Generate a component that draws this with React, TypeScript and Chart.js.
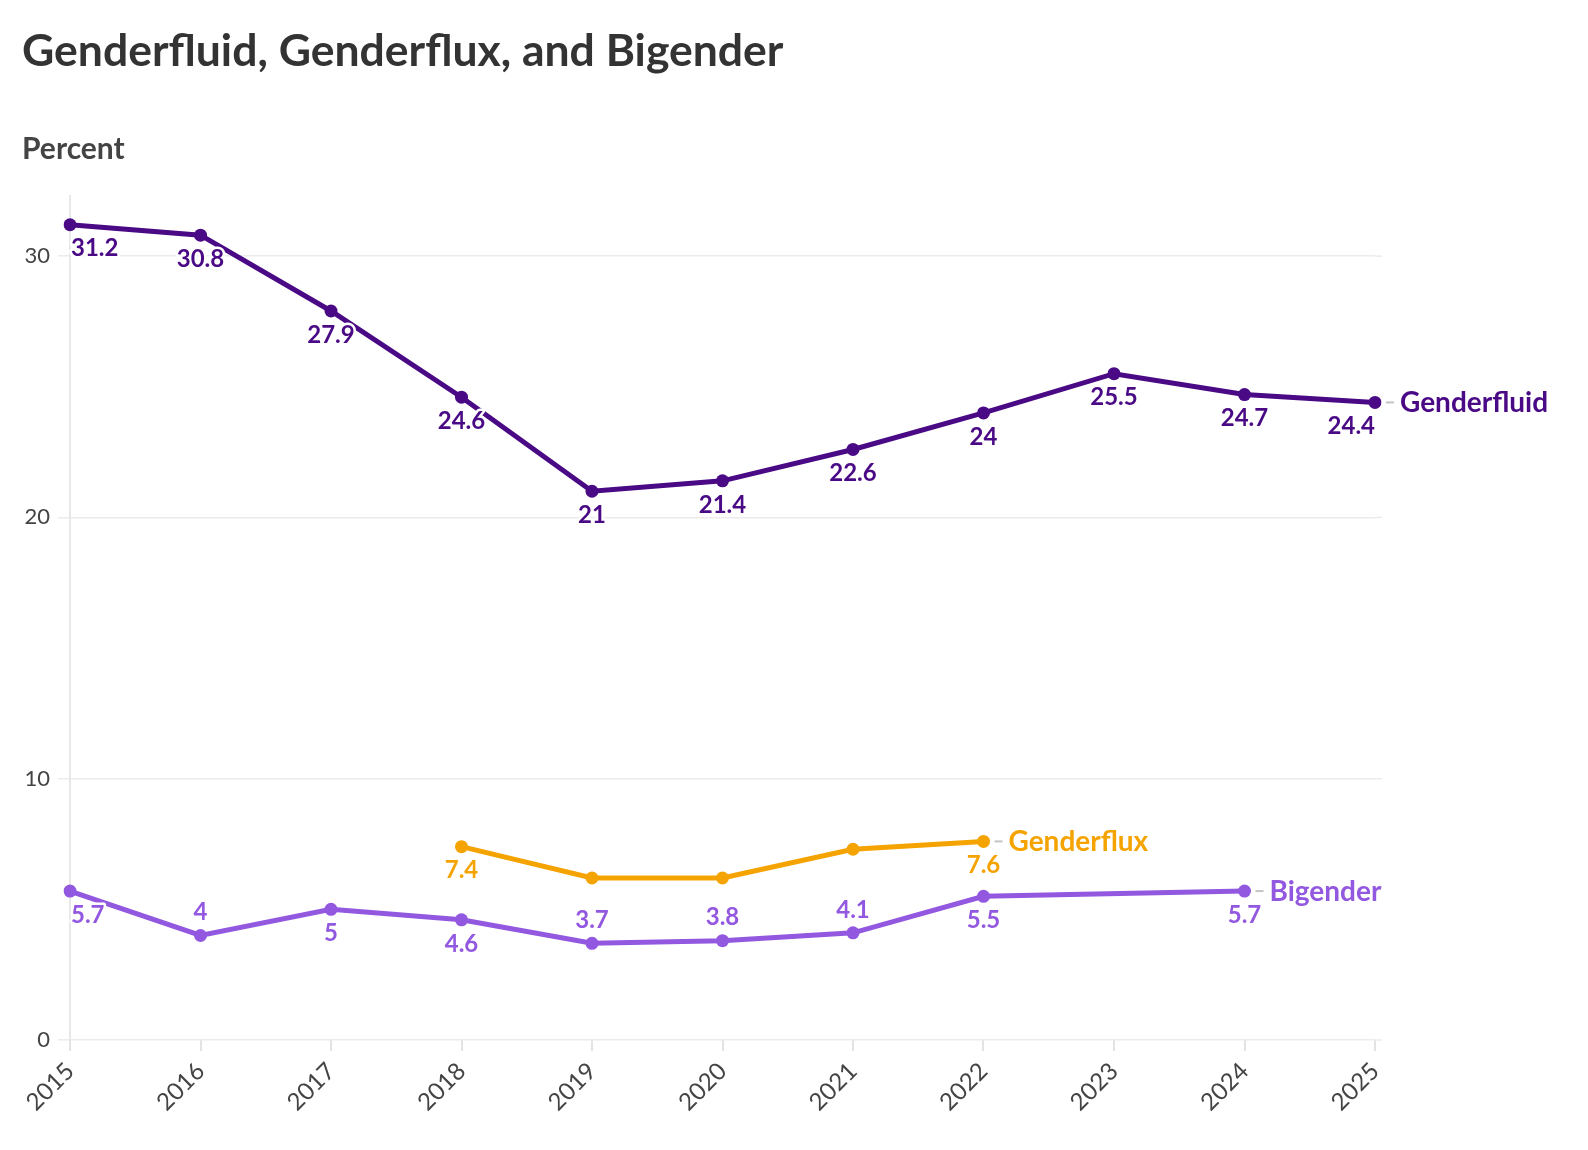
import React, { useEffect, useRef } from "react";
import { Chart, registerables } from "chart.js";

Chart.register(...registerables);

const years = ["2015", "2016", "2017", "2018", "2019", "2020", "2021", "2022", "2023", "2024", "2025"];
const genderfluid = [31.2, 30.8, 27.9, 24.6, 21, 21.4, 22.6, 24, 25.5, 24.7, 24.4];
const genderflux = [null, null, null, 7.4, 6.2, 6.2, 7.3, 7.6, null, null, null];
const bigender = [5.7, 4, 5, 4.6, 3.7, 3.8, 4.1, 5.5, null, 5.7, null];
const yTicks = [0, 10, 20, 30];
const seriesNames = ["Genderfluid", "Genderflux", "Bigender"];
const seriesColors = ["#4a0a85", "#f5a300", "#9258e0"];

const FONT = "Lato, 'Source Sans Pro', sans-serif";

const gridExtendPlugin = {
  id: "gridExtend",
  beforeDatasetsDraw(chart: any) {
    const ctx = chart.ctx;
    const area = chart.chartArea;
    const y = chart.scales.y;
    ctx.save();
    ctx.strokeStyle = "#ebebeb";
    ctx.lineWidth = 1.5;
    yTicks.forEach((v) => {
      const py = y.getPixelForValue(v);
      ctx.beginPath();
      ctx.moveTo(area.right, py);
      ctx.lineTo(area.right + 7, py);
      ctx.stroke();
    });
    ctx.restore();
  },
};

const labelPlugin = {
  id: "pointLabels",
  afterDatasetsDraw(chart: any) {
    const ctx = chart.ctx;
    const area = chart.chartArea;
    chart.data.datasets.forEach((ds: any, di: number) => {
      const meta = chart.getDatasetMeta(di);
      const vals: (number | null)[] = ds.data;
      const idx: number[] = [];
      vals.forEach((v, i) => { if (v !== null && v !== undefined) idx.push(i); });
      ctx.save();
      ctx.font = `bold 24px ${FONT}`;
      ctx.textBaseline = "middle";
      idx.forEach((i, k) => {
        const v = vals[i] as number;
        if (di === 1 && k !== 0 && k !== idx.length - 1) return;
        let above = false;
        if (di === 2) {
          const p = k > 0 ? (vals[idx[k - 1]] as number) : null;
          const n = k < idx.length - 1 ? (vals[idx[k + 1]] as number) : null;
          if (p !== null && n !== null) above = v < (p + n) / 2;
          else if (p !== null) above = v < p;
          else if (n !== null) above = v < n;
        }
        const pt = meta.data[i];
        const text = String(v);
        const w = ctx.measureText(text).width;
        let x = pt.x;
        let align: CanvasTextAlign = "center";
        if (pt.x - w / 2 < area.left) { align = "left"; x = pt.x + 1; }
        else if (pt.x + w / 2 > area.right) { align = "right"; x = pt.x; }
        const y = pt.y + (above ? -23 : 24);
        ctx.textAlign = align;
        ctx.lineWidth = 5;
        ctx.strokeStyle = "#ffffff";
        ctx.lineJoin = "round";
        ctx.strokeText(text, x, y);
        ctx.fillStyle = seriesColors[di];
        ctx.fillText(text, x, y);
      });
      // end label
      const last = idx[idx.length - 1];
      const lp = meta.data[last];
      ctx.strokeStyle = "#c4c4c4";
      ctx.lineWidth = 2;
      ctx.beginPath();
      ctx.moveTo(lp.x + 11, lp.y);
      ctx.lineTo(lp.x + 19, lp.y);
      ctx.stroke();
      ctx.font = `bold 28px ${FONT}`;
      ctx.textAlign = "left";
      ctx.fillStyle = seriesColors[di];
      ctx.fillText(seriesNames[di], lp.x + 25, lp.y + 1);
      ctx.restore();
    });
  },
};

export default function App() {
  const ref = useRef<HTMLCanvasElement | null>(null);

  useEffect(() => {
    if (!ref.current) return;
    const series = [genderfluid, genderflux, bigender];
    const chart = new Chart(ref.current, {
      type: "line",
      data: {
        labels: years,
        datasets: series.map((d, i) => ({
          label: seriesNames[i],
          data: d,
          borderColor: seriesColors[i],
          backgroundColor: seriesColors[i],
          pointBackgroundColor: seriesColors[i],
          pointBorderWidth: 0,
          pointRadius: 6.5,
          pointHoverRadius: 6.5,
          borderWidth: 5,
          spanGaps: true,
          tension: 0,
        })),
      },
      options: {
        animation: false,
        responsive: false,
        maintainAspectRatio: false,
        layout: { padding: { top: 188, right: 205, bottom: 8, left: 0 } },
        plugins: {
          legend: { display: false },
          tooltip: { enabled: false },
        },
        scales: {
          x: {
            type: "category",
            offset: false,
            grid: { drawOnChartArea: false, drawTicks: true, tickLength: 11, color: "#e3e3e3", lineWidth: 2 },
            border: { display: false },
            ticks: {
              minRotation: 45,
              maxRotation: 45,
              padding: 6,
              color: "#444444",
              font: { family: FONT, size: 24 },
            },
            afterFit: (s: any) => { s.height = 90; },
          },
          y: {
            min: 0,
            max: 32.3,
            afterBuildTicks: (s: any) => { s.ticks = yTicks.map((v) => ({ value: v })); },
            grid: { color: "#ebebeb", lineWidth: 1.5, tickLength: 12 },
            border: { display: true, color: "#e8e8e8", width: 2 },
            ticks: {
              padding: 8,
              color: "#444444",
              font: { family: FONT, size: 22 },
            },
            afterFit: (s: any) => { s.width = 62; },
          },
        },
      },
      plugins: [gridExtendPlugin, labelPlugin],
    });
    return () => chart.destroy();
  }, []);

  return (
    <div style={{ position: "relative", width: 1572, height: 1130, fontFamily: FONT }}>
      <div
        style={{
          position: "absolute",
          left: 14,
          top: 19,
          fontSize: 44.5,
          fontWeight: 700,
          lineHeight: 1,
          color: "#333333",
          whiteSpace: "nowrap",
        }}
      >
        Genderfluid, Genderflux, and Bigender
      </div>
      <div
        style={{
          position: "absolute",
          left: 14,
          top: 124,
          fontSize: 30,
          fontWeight: 700,
          lineHeight: 1,
          color: "#444444",
        }}
      >
        Percent
      </div>
      <canvas ref={ref} width={1572} height={1130} style={{ display: "block" }} />
    </div>
  );
}
